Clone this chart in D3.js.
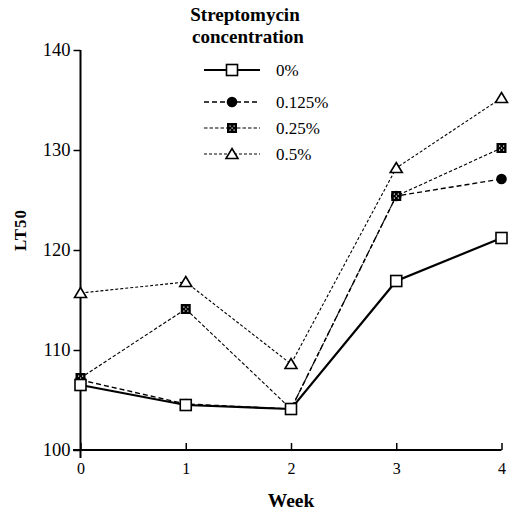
<!DOCTYPE html>
<html>
<head>
<meta charset="utf-8">
<script src="https://cdn.jsdelivr.net/npm/d3@7"></script>
<style>
body { margin: 0; background: #fff; }
</style>
</head>
<body>
<div id="chart"></div>
<script>
var weeks = [0, 1, 2, 3, 4];
var yTicks = [100, 110, 120, 130, 140];
var seriesNames = ["0.125%", "0.25%", "0.5%", "0%"];
var conc0 = [106.5, 104.5, 104.1, 116.9, 121.2];
var conc0125 = [107.0, 104.6, 104.1, 125.4, 127.1];
var conc025 = [107.2, 114.1, 104.1, 125.4, 130.2];
var conc05 = [115.7, 116.8, 108.6, 128.2, 135.2];

var serif = "'Liberation Serif', 'Times New Roman', 'DejaVu Serif', serif";

var svg = d3.select("#chart").append("svg").attr("width", 510).attr("height", 515)
    .attr("font-family", serif);
svg.append("rect").attr("width", 510).attr("height", 515).attr("fill", "#fff");

var x = d3.scaleLinear().domain([0, 4]).range([80.5, 501.5]);
var y = d3.scaleLinear().domain([100, 140]).range([450, 50]);

// axes
var yAxis = svg.append("g").attr("transform", "translate(80.5,0)")
    .call(d3.axisLeft(y).tickValues(yTicks).tickSize(7).tickPadding(3).tickFormat(d3.format("d")));
yAxis.attr("font-family", serif);
yAxis.select(".domain").remove();
yAxis.selectAll("line").attr("stroke-width", 1.5);
yAxis.selectAll("text").attr("font-size", 18.5).attr("fill", "#000");
svg.append("line").attr("x1", 80.5).attr("x2", 80.5).attr("y1", y(140)).attr("y2", 458)
    .attr("stroke", "#000").attr("stroke-width", 2);

var xAxis = svg.append("g").attr("transform", "translate(0,450)")
    .call(d3.axisBottom(x).tickValues(weeks).tickSize(-7).tickPadding(13).tickFormat(d3.format("d")));
xAxis.attr("font-family", serif);
xAxis.select(".domain").remove();
xAxis.selectAll("line").attr("stroke-width", 1.5);
xAxis.selectAll("text").attr("font-size", 16).attr("fill", "#000");
svg.append("line").attr("x1", 73).attr("x2", x(4)).attr("y1", 450).attr("y2", 450)
    .attr("stroke", "#000").attr("stroke-width", 2);

svg.append("text").attr("x", 291).attr("y", 507).attr("text-anchor", "middle")
    .attr("font-weight", "bold").attr("font-size", 19.5).text("Week");
svg.append("text").attr("transform", "translate(26,230) rotate(-90)").attr("text-anchor", "middle")
    .attr("font-weight", "bold").attr("font-size", 17).attr("letter-spacing", 1).text("LT50");

var styles = {
  "0%": {data: conc0, dash: null, width: 2.2, marker: "openSquare"},
  "0.125%": {data: conc0125, dash: "5,3", width: 1.4, marker: "circle"},
  "0.25%": {data: conc025, dash: "3.5,2", width: 1.1, marker: "dotSquare"},
  "0.5%": {data: conc05, dash: "3,2", width: 1.1, marker: "triangle"}
};

function drawMarker(g, type, cx, cy) {
  if (type == "openSquare") {
    g.append("rect").attr("x", cx - 5.5).attr("y", cy - 5.5).attr("width", 11).attr("height", 11)
        .attr("fill", "#fff").attr("stroke", "#000").attr("stroke-width", 1.6);
  } else if (type == "circle") {
    g.append("circle").attr("cx", cx).attr("cy", cy).attr("r", 5.3).attr("fill", "#000");
  } else if (type == "dotSquare") {
    g.append("rect").attr("x", cx - 5).attr("y", cy - 5).attr("width", 10).attr("height", 10).attr("fill", "#000");
    [[-2.5, -2.5], [1.5, -2.5], [-2.5, 1.5], [1.5, 1.5], [-0.5, -0.5]].forEach(function(o) {
      g.append("rect").attr("x", cx + o[0]).attr("y", cy + o[1]).attr("width", 1.2).attr("height", 1.2).attr("fill", "#fff");
    });
  } else if (type == "triangle") {
    g.append("path").attr("d", "M" + cx + "," + (cy - 5.5) + "L" + (cx + 6) + "," + (cy + 4.5) + "L" + (cx - 6) + "," + (cy + 4.5) + "Z")
        .attr("fill", "#fff").attr("stroke", "#000").attr("stroke-width", 1.6);
  }
}

var line = d3.line().x(function(d, i) { return x(weeks[i]); }).y(function(d) { return y(d); });

seriesNames.forEach(function(name) {
  var s = styles[name];
  svg.append("path").datum(s.data).attr("d", line).attr("fill", "none")
      .attr("stroke", "#000").attr("stroke-width", s.width)
      .attr("stroke-dasharray", s.dash);
});
seriesNames.forEach(function(name) {
  var s = styles[name];
  var g = svg.append("g");
  s.data.forEach(function(v, i) { drawMarker(g, s.marker, x(weeks[i]), y(v)); });
});

// legend
svg.append("text").attr("x", 245).attr("y", 21).attr("text-anchor", "middle")
    .attr("font-weight", "bold").attr("font-size", 19).text("Streptomycin");
svg.append("text").attr("x", 248).attr("y", 43).attr("text-anchor", "middle")
    .attr("font-weight", "bold").attr("font-size", 19).text("concentration");

var legendNames = ["0%", "0.125%", "0.25%", "0.5%"];
var legendY = [70, 102, 128, 154];
legendNames.forEach(function(name, i) {
  var s = styles[name];
  var g = svg.append("g");
  g.append("line").attr("x1", 204).attr("x2", 260).attr("y1", legendY[i]).attr("y2", legendY[i])
      .attr("stroke", "#000").attr("stroke-width", s.width).attr("stroke-dasharray", s.dash);
  drawMarker(g, s.marker, 232, legendY[i]);
  g.append("text").attr("x", 276).attr("y", legendY[i] + 6).attr("font-size", 17).text(name);
});
</script>
</body>
</html>
